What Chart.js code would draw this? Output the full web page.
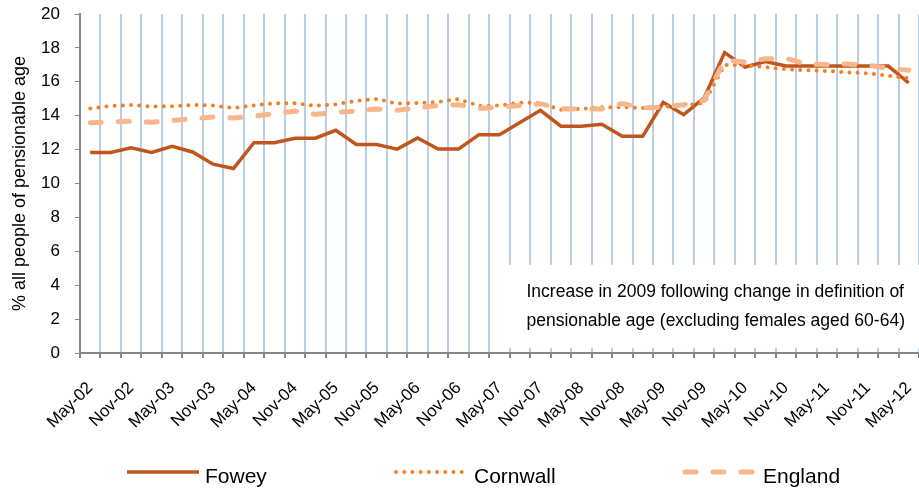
<!DOCTYPE html>
<html lang="en">
<head>
<meta charset="UTF-8">
<title>Pensionable age - Fowey, Cornwall, England</title>
<script src="https://cdn.jsdelivr.net/npm/chart.js"></script>
<style>
  html, body { margin: 0; padding: 0; background: #fff; }
  #wrap { width: 919px; height: 489px; position: relative; }
</style>
</head>
<body>
<div id="wrap"><canvas id="pensionChart"></canvas></div>

<script>
// quarterly points, May-02 .. May-12
const quarters = [
    'May-02', 'Aug-02', 'Nov-02', 'Feb-03', 'May-03', 'Aug-03', 'Nov-03', 'Feb-04',
    'May-04', 'Aug-04', 'Nov-04', 'Feb-05', 'May-05', 'Aug-05', 'Nov-05', 'Feb-06',
    'May-06', 'Aug-06', 'Nov-06', 'Feb-07', 'May-07', 'Aug-07', 'Nov-07', 'Feb-08',
    'May-08', 'Aug-08', 'Nov-08', 'Feb-09', 'May-09', 'Aug-09', 'Nov-09', 'Feb-10',
    'May-10', 'Aug-10', 'Nov-10', 'Feb-11', 'May-11', 'Aug-11', 'Nov-11', 'Feb-12',
    'May-12'
];

const fowey = [
    11.83, 11.83, 12.1, 11.83, 12.2, 11.86, 11.14, 10.88,
    12.41, 12.41, 12.67, 12.67, 13.14, 12.3, 12.3, 12.03,
    12.69, 12.04, 12.04, 12.88, 12.88, 13.6, 14.32, 13.38,
    13.38, 13.5, 12.79, 12.79, 14.79, 14.06, 15.05, 17.72,
    16.87, 17.2, 16.93, 16.93, 16.93, 16.93, 16.93, 16.93,
    15.93
];

const cornwall = [
    14.42, 14.57, 14.63, 14.54, 14.56, 14.63, 14.6, 14.46,
    14.6, 14.74, 14.74, 14.58, 14.67, 14.87, 14.99, 14.71,
    14.75, 14.81, 14.99, 14.57, 14.6, 14.77, 14.75, 14.35,
    14.4, 14.5, 14.5, 14.46, 14.52, 14.6, 14.75, 17.0,
    16.97, 16.87, 16.74, 16.68, 16.64, 16.56, 16.5, 16.35,
    16.2
];

const england = [
    13.59, 13.62, 13.67, 13.61, 13.72, 13.82, 13.92, 13.87,
    13.97, 14.13, 14.27, 14.08, 14.2, 14.28, 14.4, 14.32,
    14.46, 14.6, 14.65, 14.42, 14.5, 14.6, 14.7, 14.42,
    14.38, 14.4, 14.72, 14.46, 14.5, 14.65, 14.9, 17.27,
    17.17, 17.36, 17.38, 17.05, 17.02, 17.05, 16.98, 16.8,
    16.68
];

const yMin = 0, yMax = 20, yStep = 2;
const noteText = [
    'Increase in 2009 following change in definition of',
    'pensionable age (excluding females aged 60-64)'
];

Chart.defaults.font.family = '"Liberation Sans", Arial, sans-serif';
Chart.defaults.color = '#000';

// white text box over the gridlines (bottom right of plot)
const notePlugin = {
    id: 'noteBox',
    beforeDatasetsDraw(chart) {
        const ctx = chart.ctx;
        const xs = chart.scales.x, ys = chart.scales.y;
        const left = xs.getPixelForValue(20);
        const right = chart.chartArea.right;
        const top = ys.getPixelForValue(5.2);
        const bottom = ys.getPixelForValue(0.3);
        ctx.save();
        ctx.fillStyle = '#fff';
        ctx.fillRect(left, top, right - left, bottom - top);
        ctx.fillStyle = '#000';
        ctx.font = '17.5px "Liberation Sans", Arial, sans-serif';
        ctx.textBaseline = 'middle';
        ctx.fillText(noteText[0], left + 27, ys.getPixelForValue(3.6));
        ctx.fillText(noteText[1], left + 27, ys.getPixelForValue(1.85));
        ctx.restore();
    }
};

// legend spread across the bottom like the original
const legendPlugin = {
    id: 'bottomLegend',
    afterDraw(chart) {
        const ctx = chart.ctx;
        const starts = [127, 396, 685];
        const lineY = 472, textY = 483, sample = 72;
        chart.data.datasets.forEach((ds, i) => {
            const x = starts[i];
            ctx.save();
            ctx.strokeStyle = ds.borderColor;
            ctx.lineWidth = ds.borderWidth;
            ctx.lineCap = ds.borderCapStyle || 'butt';
            ctx.setLineDash(ds.borderDash || []);
            ctx.beginPath();
            ctx.moveTo(x, lineY);
            ctx.lineTo(x + sample, lineY);
            ctx.stroke();
            ctx.setLineDash([]);
            ctx.fillStyle = '#000';
            ctx.font = '21px "Liberation Sans", Arial, sans-serif';
            ctx.textBaseline = 'alphabetic';
            ctx.fillText(ds.label, x + sample + 6, textY);
            ctx.restore();
        });
    }
};

const ctx = document.getElementById('pensionChart').getContext('2d');
const pensionChart = new Chart(ctx, {
    type: 'line',
    data: {
        labels: quarters,
        datasets: [
            {
                label: 'Fowey',
                data: fowey,
                borderColor: '#c0561c',
                borderWidth: 3.5,
                borderCapStyle: 'butt',
                order: 2
            },
            {
                label: 'Cornwall',
                data: cornwall,
                borderColor: '#f47f24',
                borderWidth: 4,
                borderDash: [0, 8.2],
                borderCapStyle: 'round',
                order: 1
            },
            {
                label: 'England',
                data: england,
                borderColor: '#f9b68a',
                borderWidth: 5,
                borderDash: [11, 17],
                borderCapStyle: 'round',
                order: 0
            }
        ]
    },
    options: {
        responsive: true,
        maintainAspectRatio: false,
        animation: false,
        layout: { padding: { top: 14, right: -2, bottom: 0, left: 0 } },
        elements: {
            point: { radius: 0, hoverRadius: 0 },
            line: { tension: 0, fill: false }
        },
        plugins: {
            legend: { display: false },
            tooltip: { enabled: false }
        },
        scales: {
            x: {
                offset: true,
                grid: {
                    offset: true,
                    color: '#b9cde5',
                    lineWidth: 2,
                    tickColor: '#868686',
                    tickLength: 5
                },
                border: { color: '#868686', width: 2 },
                ticks: {
                    autoSkip: false,
                    minRotation: 45,
                    maxRotation: 45,
                    padding: 20,
                    font: { size: 17 },
                    callback: function(val, idx) {
                        return idx % 2 === 0 ? quarters[idx] : '';
                    }
                },
                afterFit: function(scale) {
                    scale.height = 136;
                    // plot runs to the right edge of the picture
                    scale.paddingLeft = 0;
                    scale.paddingRight = -2;
                }
            },
            y: {
                min: yMin,
                max: yMax,
                grid: {
                    drawOnChartArea: false,
                    color: '#868686',
                    tickLength: 5
                },
                border: { color: '#868686', width: 2 },
                ticks: {
                    stepSize: yStep,
                    padding: 15,
                    font: { size: 17 }
                },
                title: {
                    display: true,
                    text: '% all people of pensionable age',
                    font: { size: 18 },
                    padding: { top: 9, bottom: 0 }
                },
                afterFit: function(scale) {
                    scale.width = 80;
                    scale.paddingTop = 0;
                    scale.paddingBottom = 0;
                }
            }
        }
    },
    plugins: [notePlugin, legendPlugin]
});
</script>
</body>
</html>
